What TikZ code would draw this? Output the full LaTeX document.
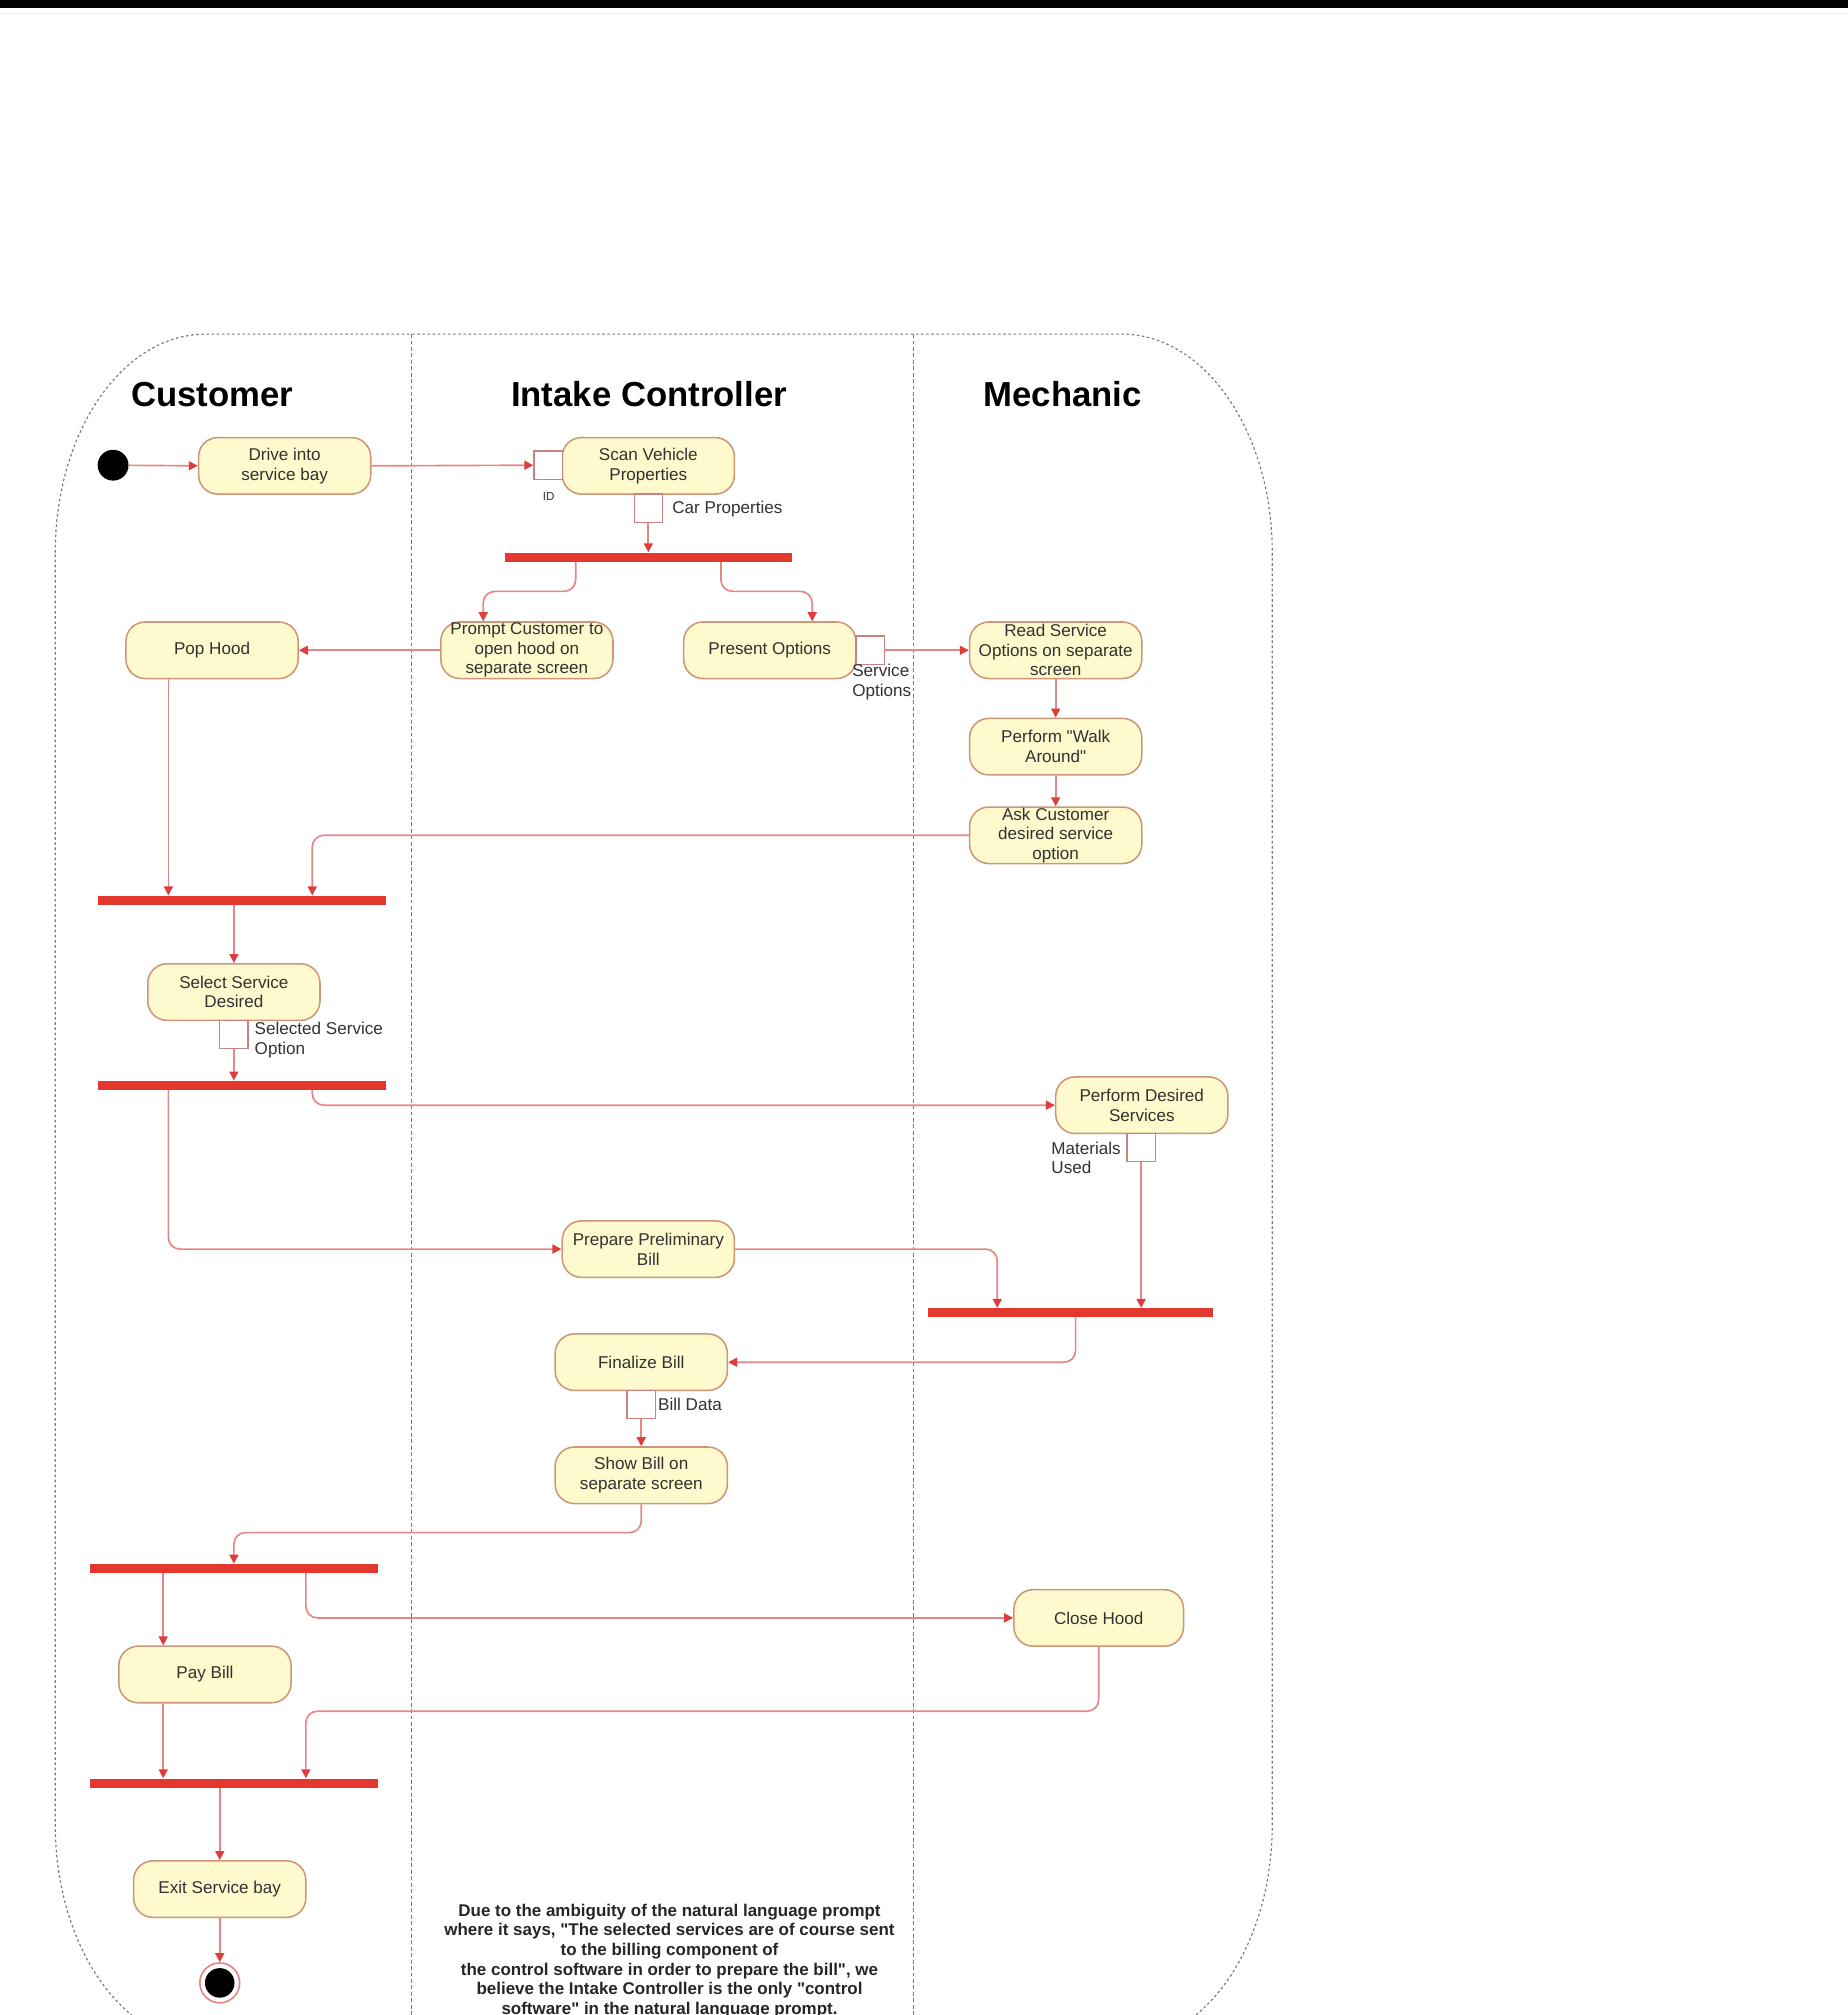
\documentclass[tikz,border=0pt]{standalone}
\usepackage{fontspec}
\setmainfont{Liberation Sans}
\usetikzlibrary{arrows.meta}
\definecolor{actfill}{RGB}{255,250,205}
\definecolor{actborder}{RGB}{205,150,120}
\definecolor{pinborder}{RGB}{200,130,130}
\definecolor{flowline}{RGB}{230,135,135}
\definecolor{arrowred}{RGB}{225,60,60}
\definecolor{barred}{RGB}{228,55,45}
\definecolor{lanegray}{RGB}{120,120,120}
\definecolor{txt}{RGB}{50,50,50}
\begin{document}
\begin{tikzpicture}[x=1pt,y=-1pt,
 act/.style={draw=actborder, fill=actfill, rounded corners=15pt, minimum width=134pt, minimum height=44pt, align=center, inner sep=0pt, line width=1.2pt, font=\fontsize{13.3}{15.2}\selectfont, text=txt},
 pinbox/.style={draw=pinborder, fill=white, minimum size=22pt, inner sep=0pt, line width=1pt},
 bar/.style={fill=barred, minimum height=7pt, inner sep=0pt},
 flow/.style={draw=flowline, line width=1.3pt, rounded corners=9pt, -{Triangle[length=7pt,width=7pt,color=arrowred]}},
 lbl/.style={font=\fontsize{13.3}{15.5}\selectfont, text=txt, inner sep=0pt, align=left},
 title/.style={font=\fontsize{27}{30}\selectfont\bfseries, inner sep=0pt},
 lane/.style={draw=lanegray, dash pattern=on 3pt off 2pt, line width=0.9pt}
]
\path[use as bounding box] (0,0) rectangle (1438,1568);
\begin{scope}
\clip (0,0) rectangle (1438,1568);
\fill[black] (0,0) rectangle (1438,6);
\draw[black!8] (0,10) -- (1438,10);
% swimlane frame
\draw[lanegray, dash pattern=on 2pt off 2pt, line width=0.9pt]
  (43,430) arc[start angle=180,end angle=90,x radius=117pt,y radius=170pt]
  -- (873,260) arc[start angle=90,end angle=0,x radius=117pt,y radius=170pt]
  -- (990,1420) arc[start angle=0,end angle=-90,x radius=117pt,y radius=170pt]
  -- (160,1590) arc[start angle=270,end angle=180,x radius=117pt,y radius=170pt]
  -- cycle;
\draw[lane] (320,260) -- (320,1590);
\draw[lane] (711,260) -- (711,1590);
% titles
\node[title] (tcust) at (165,307) {Customer};
\node[title] (tintake) at (505,307) {Intake Controller};
\node[title] (tmech) at (827,307) {Mechanic};
% guide coordinates
\coordinate (x127) at (127,0);
\coordinate (x131) at (131,0);
\coordinate (x238) at (238,0);
\coordinate (x243) at (243,0);
\coordinate (x376) at (376,0);
\coordinate (x448) at (448,0);
\coordinate (x561) at (561,0);
\coordinate (x632) at (632,0);
\coordinate (x776) at (776,0);
\coordinate (x837) at (837,0);
\coordinate (x182) at (182,0);
% nodes
\node[circle, fill=black, minimum size=24pt, inner sep=0pt] (init) at (88,362) {};
\node[act] (drive) at (221.5,362.5) {Drive into\\service bay};
\node[act] (scan) at (504.5,362.5) {Scan Vehicle\\Properties};
\node[pinbox] (scanpin) at (426.5,362) {};
\node[lbl, font=\fontsize{9}{10}\selectfont] (idl) at (427,386) {ID};
\node[pinbox] (carpin) at (504.5,395.5) {};
\node[lbl, anchor=west] (carl) at (523,396) {Car Properties};
\node[bar, minimum width=223pt] (bar1) at (504.5,433.5) {};
\node[act] (prompt) at (410,506) {Prompt Customer to\\open hood on\\separate screen};
\node[act] (present) at (599,506) {Present Options};
\node[pinbox] (svcpin) at (677,506) {};
\node[lbl, anchor=west] (svcl) at (663,531) {Service\\Options};
\node[act] (pop) at (165,506) {Pop Hood};
\node[act] (read) at (821.5,506) {Read Service\\Options on separate\\screen};
\node[act] (walk) at (821.5,581) {Perform \textquotedbl Walk\\Around\textquotedbl};
\node[act] (ask) at (821.5,650) {Ask Customer\\desired service\\option};
\node[bar, minimum width=224pt] (bar2) at (188,700.5) {};
\node[act] (select) at (182,772) {Select Service\\Desired};
\node[pinbox] (selpin) at (182,805) {};
\node[lbl, anchor=west] (sell) at (198,809) {Selected Service\\Option};
\node[bar, minimum width=224pt] (bar3) at (188,844.5) {};
\node[act] (perform) at (888.5,860) {Perform Desired\\Services};
\node[pinbox] (matpin) at (888,893) {};
\node[lbl, anchor=west] (matl) at (818,901) {Materials\\Used};
\node[act] (prelim) at (504.5,972) {Prepare Preliminary\\Bill};
\node[bar, minimum width=222pt] (bar4) at (833,1021.5) {};
\node[act] (final) at (499,1060) {Finalize Bill};
\node[pinbox] (billpin) at (499,1093) {};
\node[lbl, anchor=west] (billl) at (512,1093) {Bill Data};
\node[act] (show) at (499,1148) {Show Bill on\\separate screen};
\node[bar, minimum width=224pt] (bar5) at (182,1220.5) {};
\node[act] (pay) at (159.5,1303) {Pay Bill};
\node[act, minimum width=132pt] (close) at (855,1259) {Close Hood};
\node[bar, minimum width=224pt] (bar6) at (182,1387.5) {};
\node[act] (exit) at (171,1470) {Exit Service bay};
\node[circle, draw=flowline, line width=1.3pt, fill=white, minimum size=31pt, inner sep=0pt] (end) at (171,1543) {};
\node[circle, fill=black, minimum size=23pt, inner sep=0pt] (endin) at (end) {};
% note
\node[font=\fontsize{13.2}{15.3}\selectfont\bfseries, align=center, inner sep=0pt, text=black!85] (note) at (521,1526)
 {Due to the ambiguity of the natural language prompt\\
  where it says, \textquotedbl The selected services are of course sent\\
  to the billing component of\\
  the control software in order to prepare the bill\textquotedbl, we\\
  believe the Intake Controller is the only \textquotedbl control\\
  software\textquotedbl\ in the natural language prompt.};
% connectors
\draw[flow] (init) -- (drive.west);
\draw[flow] (drive.east) -- (scanpin.west);
\draw[flow] (carpin.south) -- (bar1.north -| carpin);
\draw[flow] (bar1.south -| x448) -- ++(0,23) -| (prompt.north -| x376);
\draw[flow] (bar1.south -| x561) -- ++(0,23) -| (present.north -| x632);
\draw[flow] (prompt.west) -- (pop.east);
\draw[flow] (svcpin.east) -- (read.west);
\draw[flow] (read.south) -- (walk.north);
\draw[flow] (walk.south) -- (ask.north);
\draw[flow] (pop.south -| x131) -- (bar2.north -| x131);
\draw[flow] (ask.west) -| (bar2.north -| x243);
\draw[flow] (bar2.south -| select) -- (select.north);
\draw[flow] (selpin.south) -- (bar3.north -| selpin);
\draw[flow] (bar3.south -| x243) |- (perform.west);
\draw[flow] (bar3.south -| x131) |- (prelim.west);
\draw[flow] (prelim.east) -| (bar4.north -| x776);
\draw[flow] (matpin.south) -- (bar4.north -| matpin);
\draw[flow] (bar4.south -| x837) |- (final.east);
\draw[flow] (billpin.south) -- (show.north);
\draw[flow] (show.south) -- ++(0,22) -| (bar5.north -| x182);
\draw[flow] (bar5.south -| x127) -- (pay.north -| x127);
\draw[flow] (bar5.south -| x238) |- (close.west);
\draw[flow] (close.south) -- ++(0,50) -| (bar6.north -| x238);
\draw[flow] (pay.south -| x127) -- (bar6.north -| x127);
\draw[flow] (bar6.south -| exit) -- (exit.north);
\draw[flow] (exit.south) -- (end.north);
\end{scope}
\end{tikzpicture}
\end{document}
